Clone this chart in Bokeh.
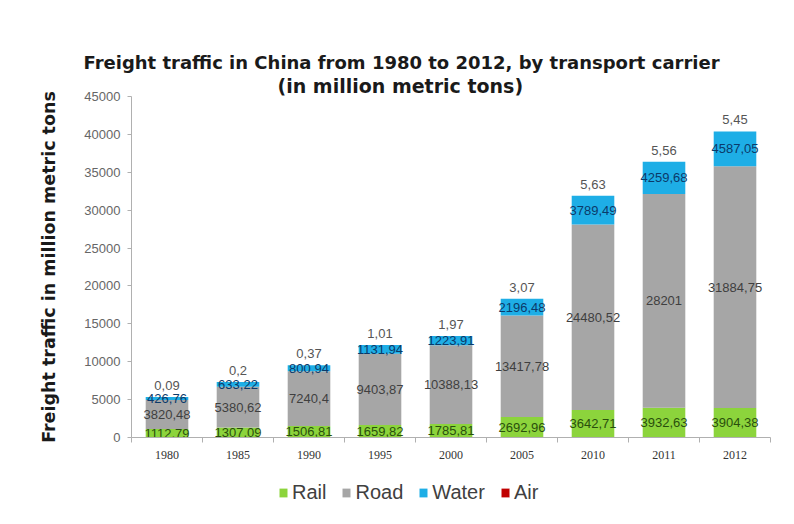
from bokeh.plotting import figure
from bokeh.layouts import column
from bokeh.models import (ColumnDataSource, FixedTicker, Legend, LegendItem, Title)
from bokeh.core.properties import value
from bokeh.embed import file_html
from bokeh.resources import INLINE

# ---- data (million metric tons) ----
years = ["1980", "1985", "1990", "1995", "2000", "2005", "2010", "2011", "2012"]
rail = [1112.79, 1307.09, 1506.81, 1659.82, 1785.81, 2692.96, 3642.71, 3932.63, 3904.38]
road = [3820.48, 5380.62, 7240.4, 9403.87, 10388.13, 13417.78, 24480.52, 28201, 31884.75]
water = [426.76, 633.22, 800.94, 1131.94, 1223.91, 2196.48, 3789.49, 4259.68, 4587.05]
air = [0.09, 0.2, 0.37, 1.01, 1.97, 3.07, 5.63, 5.56, 5.45]
y_ticks = [0, 5000, 10000, 15000, 20000, 25000, 30000, 35000, 40000, 45000]
series_names = ["Rail", "Road", "Water", "Air"]
stack_cols = ["rail", "road", "water", "air"]
colors = ["#8cd43c", "#a6a6a6", "#1eaee6", "#c00000"]


def fmt(v):
    s = f"{v:.2f}".rstrip("0").rstrip(".")
    return s.replace(".", ",")


n = len(years)
xs = [i + 0.5 for i in range(n)]
src = ColumnDataSource(dict(
    x=xs, rail=rail, road=road, water=water, air=air,
    rail_mid=[r / 2 for r in rail],
    road_mid=[r + d / 2 for r, d in zip(rail, road)],
    water_mid=[r + d + w / 2 for r, d, w in zip(rail, road, water)],
    total=[r + d + w + a for r, d, w, a in zip(rail, road, water, air)],
    rail_lbl=[fmt(v) for v in rail],
    road_lbl=[fmt(v) for v in road],
    water_lbl=[fmt(v) for v in water],
    air_lbl=[fmt(v) for v in air],
))

W = 790
p = figure(width=W, height=470, x_range=(0, n), y_range=(0, 45000),
           output_backend="svg", toolbar_location=None,
           min_border_left=131, min_border_right=20, min_border_top=96,
           min_border_bottom=33)
p.outline_line_color = None
p.xgrid.grid_line_color = None
p.ygrid.grid_line_color = None
p.background_fill_color = "white"
p.border_fill_color = "white"

p.vbar_stack(stack_cols, x="x", width=0.6, color=colors, line_color=None,
             source=src)

label_font = value("Liberation Sans")
p.text(x="x", y="rail_mid", text="rail_lbl", source=src, text_align="center",
       text_baseline="middle", text_font=label_font, text_font_size="13px",
       text_color="#2a4f0c")
p.text(x="x", y="road_mid", text="road_lbl", source=src, text_align="center",
       text_baseline="middle", text_font=label_font, text_font_size="13px",
       text_color="#3f3f3f")
p.text(x="x", y="water_mid", text="water_lbl", source=src, text_align="center",
       text_baseline="middle", text_font=label_font, text_font_size="13px",
       text_color="#0b3a6a")
p.text(x="x", y="total", text="air_lbl", source=src, text_align="center",
       text_baseline="bottom", y_offset=-7, text_font=label_font,
       text_font_size="13px", text_color="#555555")

# y axis
p.yaxis.ticker = FixedTicker(ticks=y_ticks)
p.yaxis.axis_label = "Freight traffic in million metric tons"
p.yaxis.axis_label_text_font = "DejaVu Sans"
p.yaxis.axis_label_text_font_style = "bold"
p.yaxis.axis_label_text_font_size = "17.5px"
p.yaxis.axis_label_text_color = "#1a1a1a"
p.yaxis.axis_label_standoff = 22
p.yaxis.major_label_text_font = "Liberation Sans"
p.yaxis.major_label_text_font_size = "13px"
p.yaxis.major_label_text_color = "#666666"
p.yaxis.axis_line_color = "#b0b0b0"
p.yaxis.major_tick_line_color = "#b0b0b0"
p.yaxis.major_tick_out = 4
p.yaxis.major_tick_in = 0
p.yaxis.minor_tick_line_color = None
p.yaxis.major_label_standoff = 7

# x axis: labels at bar centres, tick marks between categories
p.xaxis.ticker = FixedTicker(ticks=xs, minor_ticks=list(range(n + 1)))
p.xaxis.major_label_overrides = {x: y for x, y in zip(xs, years)}
p.xaxis.major_tick_line_color = None
p.xaxis.minor_tick_line_color = "#b0b0b0"
p.xaxis.minor_tick_out = 5
p.xaxis.minor_tick_in = 0
p.xaxis.axis_line_color = "#b0b0b0"
p.xaxis.major_label_text_font = "Liberation Serif"
p.xaxis.major_label_text_font_size = "12px"
p.xaxis.major_label_text_color = "#333333"
p.xaxis.major_label_standoff = 7

# titles
p.title.text = "Freight traffic in China from 1980 to 2012, by transport carrier"
p.title.align = "left"
p.title.offset = -48
p.title.standoff = 0
p.title.text_font = "DejaVu Sans"
p.title.text_font_size = "18px"
p.title.text_font_style = "bold"
p.title.text_color = "#1a1a1a"
p.add_layout(Title(text="(in million metric tons)", standoff=0,
                   align="left", offset=146, text_font="DejaVu Sans",
                   text_font_size="19px", text_font_style="bold",
                   text_color="#1a1a1a"), "above")

# legend strip below the chart (its frame is aligned with the chart frame)
lf = figure(width=W, height=50, x_range=(0, n), y_range=(0, 45000),
            output_backend="svg", toolbar_location=None,
            x_axis_location=None, y_axis_location=None,
            min_border=0, min_border_left=0, min_border_right=0,
            min_border_top=0, min_border_bottom=0)
lf.outline_line_color = None
lf.xgrid.grid_line_color = None
lf.ygrid.grid_line_color = None
lf.border_fill_color = "white"
leg_renderers = lf.vbar_stack(stack_cols, x="x", width=0.6, color=colors,
                              line_color=None, source=src)
for r in leg_renderers:
    r.visible = False

legend = Legend(items=[LegendItem(label=nm, renderers=[r])
                       for nm, r in zip(series_names, leg_renderers)],
                orientation="horizontal", location=(147, 16),
                border_line_color=None, background_fill_alpha=0,
                label_text_font="Liberation Sans", label_text_font_size="20px",
                label_text_color="#404040", glyph_width=10, glyph_height=11,
                label_standoff=4, spacing=15, padding=0, margin=0)
lf.add_layout(legend, "center")

layout = column(p, lf, spacing=0)
open("out.html", "w").write(file_html(layout, INLINE))
